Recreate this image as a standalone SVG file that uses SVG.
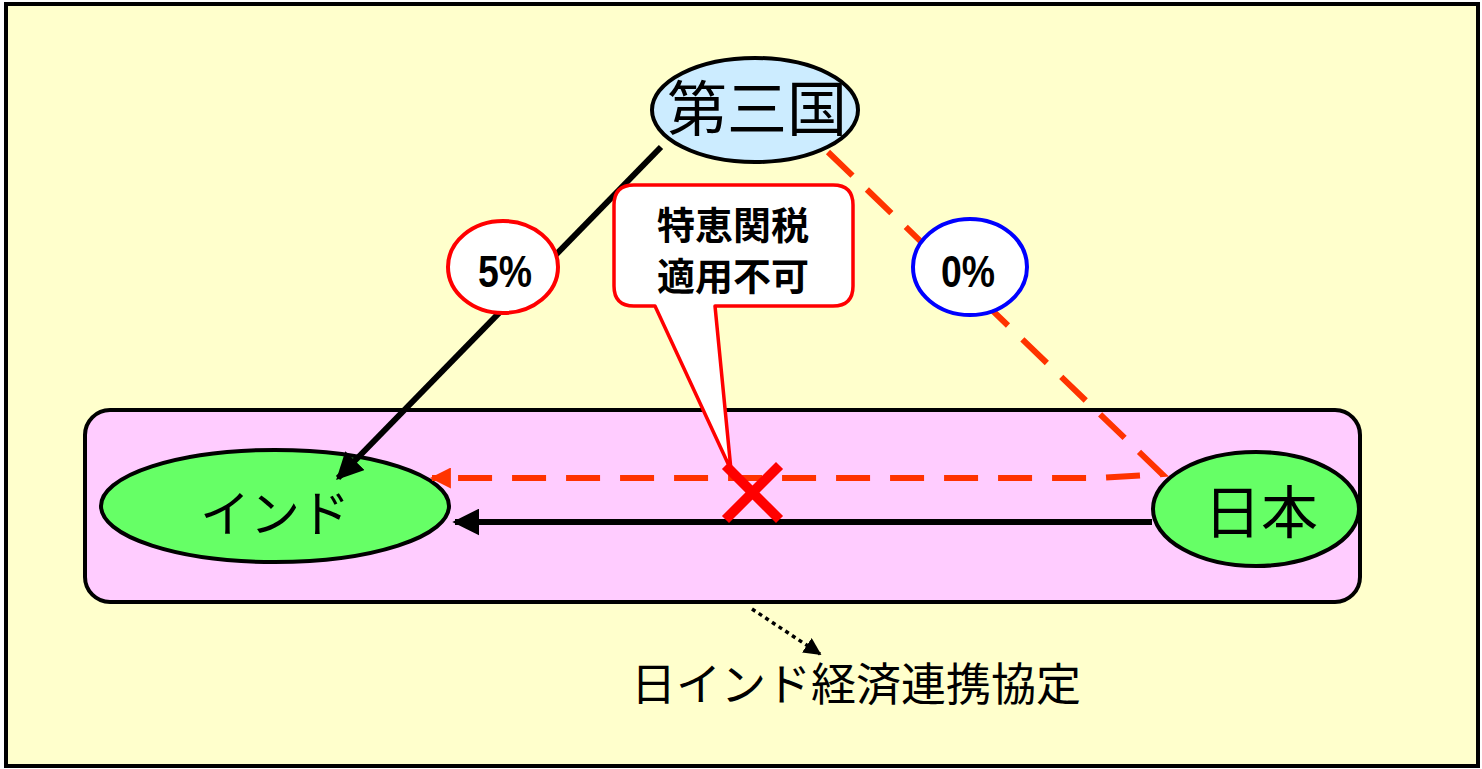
<svg xmlns="http://www.w3.org/2000/svg" width="1482" height="769" viewBox="0 0 1482 769">
<style>
.jp{font-family:"Noto Sans CJK JP","Liberation Sans",sans-serif;fill:#000;text-anchor:middle}
.b{font-family:"Liberation Sans","Noto Sans CJK JP",sans-serif;font-weight:bold;fill:#000;text-anchor:middle}
</style>
<defs>
<marker id="ah" viewBox="0 0 10 10" refX="9" refY="5" markerWidth="4.5" markerHeight="4.5" orient="auto" markerUnits="strokeWidth"><path d="M0,0 L10,5 L0,10 z" fill="#000"/></marker>
<marker id="ahr" viewBox="0 0 10 10" refX="9" refY="5" markerWidth="3.5" markerHeight="3.5" orient="auto" markerUnits="strokeWidth"><path d="M0,0 L10,5 L0,10 z" fill="#FF3300"/></marker>
<marker id="ahd" viewBox="0 0 10 10" refX="9" refY="5" markerWidth="5" markerHeight="5" orient="auto" markerUnits="strokeWidth"><path d="M0,0 L10,5 L0,10 z" fill="#000"/></marker>
</defs>
<rect x="6" y="4" width="1472" height="762" fill="#FFFFCC" stroke="#000" stroke-width="4"/>
<g id="fta-box"><rect x="85" y="410" width="1275" height="192" rx="25" fill="#FFCCFF" stroke="#000" stroke-width="4"/></g>
<g id="third-country"><ellipse cx="755" cy="110" rx="103" ry="52" fill="#CCECFF" stroke="#000" stroke-width="4"/><text class="jp" x="757" y="131" font-size="60">第三国</text></g>
<g id="india"><ellipse cx="275" cy="506" rx="174" ry="56" fill="#66FF66" stroke="#000" stroke-width="4"/><text class="jp" x="275" y="532" font-size="50">インド</text></g>
<g id="japan"><ellipse cx="1256" cy="509" rx="103" ry="57" fill="#66FF66" stroke="#000" stroke-width="4"/><text class="jp" x="1261" y="533" font-size="57">日本</text></g>
<g id="connectors">
<line x1="661" y1="147" x2="338" y2="478" stroke="#000" stroke-width="6" marker-end="url(#ah)"/>
<polyline points="828,152 1162,474 1100,478 432,478" fill="none" stroke="#FF3300" stroke-width="6" stroke-dasharray="34,20" marker-end="url(#ahr)"/>
<line x1="1152" y1="522" x2="455" y2="522" stroke="#000" stroke-width="6" marker-end="url(#ah)"/>
<line x1="752" y1="609" x2="820" y2="654" stroke="#000" stroke-width="3.5" stroke-dasharray="4,4" marker-end="url(#ahd)"/>
</g>
<g id="rate-5"><ellipse cx="503" cy="267" rx="55" ry="46" fill="#FFF" stroke="#FF0000" stroke-width="4"/><text class="b" x="505" y="287" font-size="44" transform="translate(505 0) scale(0.85 1) translate(-505 0)">5%</text></g>
<g id="rate-0"><ellipse cx="970" cy="267" rx="57" ry="48" fill="#FFF" stroke="#0000FF" stroke-width="4"/><text class="b" x="968" y="287" font-size="44" transform="translate(968 0) scale(0.85 1) translate(-968 0)">0%</text></g>
<g id="callout">
<path d="M637,185 H833 Q853,185 853,205 V286 Q853,306 833,306 H715 L731,470 L655,306 H634 Q614,306 614,286 V205 Q614,185 634,185 Z" fill="#FFF" stroke="#FF0000" stroke-width="3.5" stroke-linejoin="round"/>
<text class="jp" x="733" y="239" font-size="38" font-weight="bold">特恵関税</text>
<text class="jp" x="733" y="290" font-size="38" font-weight="bold">適用不可</text>
</g>
<g id="cross" stroke="#FF0000" stroke-width="10" stroke-linecap="square">
<line x1="729" y1="469" x2="776" y2="516"/><line x1="776" y1="469" x2="729" y2="516"/>
</g>
<g id="label"><text class="jp" x="856" y="701" font-size="45">日インド経済連携協定</text></g>
</svg>
